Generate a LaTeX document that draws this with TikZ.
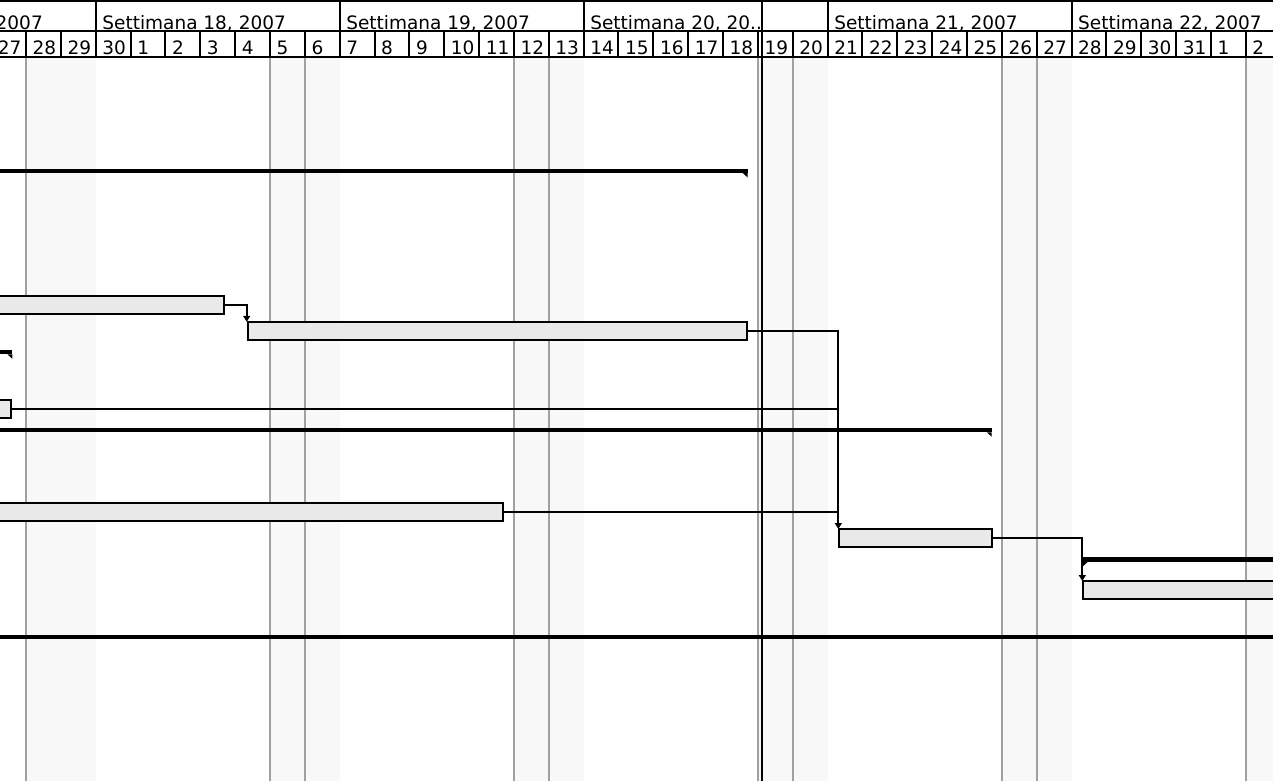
\documentclass[tikz,border=0pt]{standalone}
\usepackage{fontspec}
\setmainfont{DejaVu Sans}
\usetikzlibrary{arrows.meta}
\definecolor{wkshade}{HTML}{F8F8F8}
\definecolor{gridgrey}{HTML}{A0A0A0}
\definecolor{barfill}{HTML}{E9E9E9}
\begin{document}
\begin{tikzpicture}[x=1pt,y=-1pt,
  hdrline/.style={line width=2pt,black},
  gridline/.style={line width=2pt,gridgrey},
  wktext/.style={anchor=base west,inner sep=0pt,font=\fontsize{18.5}{20}\selectfont},
  daytext/.style={anchor=base west,inner sep=0pt,font=\fontsize{18.5}{20}\selectfont},
  taskbar/.style={draw=black,fill=barfill,line width=2pt,rectangle,inner sep=0pt,outer sep=0pt,minimum height=18pt},
  summ/.style={fill=black,rectangle,inner sep=0pt,outer sep=0pt,minimum height=4.5pt},
  link/.style={line width=2pt,black},
  linkarrow/.style={link,-{Triangle[width=7pt,length=6pt]}}
]
\useasboundingbox (0,0) rectangle (1273,781);
\clip (0,0) rectangle (1273,781);
\fill[white] (0,0) rectangle (1273,781);
\def\dw{34.85}
% weekend shading
\foreach \k in {0,7,14,21,28,35}
  \fill[wkshade] ({26+\k*\dw},58) rectangle ({26+(\k+2)*\dw},781);
% weekend grid lines
\foreach \k in {0,7,8,14,15,21,22,28,29,35}
  \draw[gridline] ({26+\k*\dw},58) -- ({26+\k*\dw},781);
% header lines
\draw[hdrline] (-10,1) -- (1290,1);
\draw[hdrline] (-10,31.5) -- (1290,31.5);
\draw[hdrline] (-10,57.5) -- (1290,57.5);
\foreach \k in {-1,...,36}
  \draw[hdrline] ({26+\k*\dw},31.5) -- ({26+\k*\dw},57.5);
\foreach \k in {2,9,16,23,30}
  \draw[hdrline] ({26+\k*\dw},1) -- ({26+\k*\dw},31.5);
% day labels
\foreach \d [count=\i from -1] in {27,28,29,30,1,2,3,4,5,6,7,8,9,10,11,12,13,14,15,16,17,18,19,20,21,22,23,24,25,26,27,28,29,30,31,1,2}
  \node[daytext] (day\i) at ({26+\i*\dw+6.5},54.5) {\d};
% week labels
\node[wktext,anchor=base east] (wk17) at (43,29.5) {Settimana 17, 2007};
\node[wktext] (wk18) at ({26+2*\dw+6.5},29.5) {Settimana 18, 2007};
\node[wktext] (wk19) at ({26+9*\dw+6.5},29.5) {Settimana 19, 2007};
\node[wktext] (wk20) at ({26+16*\dw+6.5},29.5) {Settimana 20, 20..};
\node[wktext] (wk21) at ({26+23*\dw+6.5},29.5) {Settimana 21, 2007};
\node[wktext] (wk22) at ({26+30*\dw+6.5},29.5) {Settimana 22, 2007};
% today line
\draw[line width=2pt,black] (762,0) -- (762,781);
% summary bars
\node[summ,minimum width=767.7pt] (S1) at (363.85,170.75) {};
\fill (S1.south east) -- ++(-5,0) -- ++(5,4.5) -- cycle;
\node[summ,minimum width=32.3pt] (S2) at (-3.85,352) {};
\fill (S2.south east) -- ++(-5,0) -- ++(5,4.5) -- cycle;
\node[summ,minimum width=1011.7pt] (S3) at (485.85,430) {};
\fill (S3.south east) -- ++(-5,0) -- ++(5,4.5) -- cycle;
\node[summ,minimum width=217.3pt] (S4) at (1191.35,559.7) {};
\fill (S4.south west) -- ++(5,0) -- ++(-5,4.5) -- cycle;
\node[summ,minimum width=1320pt] (S5) at (636.5,637) {};
% task bars
\node[taskbar,minimum width=244pt] (A) at (102,304.7) {};
\node[taskbar,minimum width=499pt] (B) at (497.2,330.8) {};
\node[taskbar,minimum width=31.3pt] (C) at (-4.35,408.5) {};
\node[taskbar,minimum width=523pt] (D) at (241.5,512.3) {};
\node[taskbar,minimum width=152.4pt] (E) at (915.5,538) {};
\node[taskbar,minimum width=216.7pt] (F) at (1191.65,590) {};
\coordinate (Bin) at ([xshift=-1pt]B.north west);
\coordinate (Ein) at ([xshift=-1pt]E.north west);
\coordinate (Fin) at ([xshift=-1pt]F.north west);
% links
\draw[linkarrow] (A.east) -| (Bin);
\draw[linkarrow] (B.east) -| (Ein);
\draw[link] (C.east) -- (C.east -| Ein);
\draw[link] (D.east) -- (D.east -| Ein);
\draw[linkarrow] (E.east) -| (Fin);
\end{tikzpicture}
\end{document}
